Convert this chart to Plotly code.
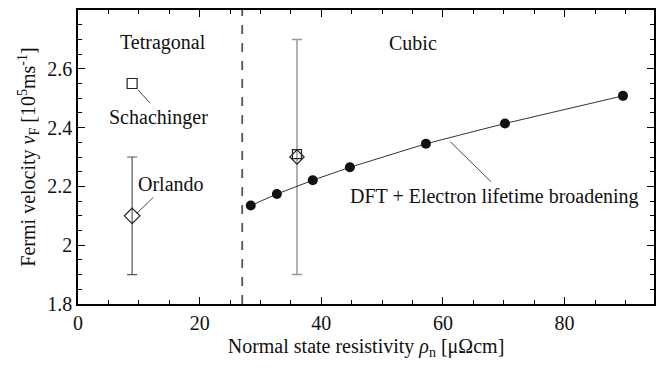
import plotly.graph_objects as go

# Data
dft_rho = [28.4, 32.7, 38.6, 44.7, 57.2, 70.2, 89.6]
dft_vf = [2.135, 2.174, 2.221, 2.265, 2.345, 2.414, 2.508]

schach_rho = [8.9]
schach_vf = [2.55]

orlando_rho = [8.9]
orlando_vf = [2.10]
orlando_err = [0.2]

cubic_sq_rho = [36.0]
cubic_sq_vf = [2.31]
cubic_dia_rho = [36.0]
cubic_dia_vf = [2.30]
cubic_err_plus = [0.40]
cubic_err_minus = [0.40]

boundary_rho = 27.0

x_ticks = [0, 20, 40, 60, 80]
y_ticks = [1.8, 2.0, 2.2, 2.4, 2.6, 2.8]
y_ticktext = ["1.8", "2", "2.2", "2.4", "2.6", "2.8"]

FONT = "Liberation Serif"
DARK = "#222222"
TXT = 20

fig = go.Figure()

# dashed boundary
fig.add_vline(x=boundary_rho, line=dict(color="#555555", width=1.8, dash="dash"))

# Cubic point with grey error bar
fig.add_trace(go.Scatter(
    x=cubic_dia_rho, y=cubic_dia_vf, mode="markers",
    marker=dict(symbol="diamond-open", size=11, color=DARK, line=dict(width=1.2)),
    error_y=dict(type="data", symmetric=False, array=cubic_err_plus, arrayminus=cubic_err_minus,
                 color="#999999", thickness=1.5, width=5),
    showlegend=False))
fig.add_trace(go.Scatter(
    x=cubic_sq_rho, y=cubic_sq_vf, mode="markers",
    marker=dict(symbol="square-open", size=9, color=DARK, line=dict(width=1.2)),
    showlegend=False))

# Orlando
fig.add_trace(go.Scatter(
    x=orlando_rho, y=orlando_vf, mode="markers",
    marker=dict(symbol="diamond-open", size=12, color=DARK, line=dict(width=1.2)),
    error_y=dict(type="data", array=orlando_err, color="#555555", thickness=1.2, width=5),
    showlegend=False))

# Schachinger
fig.add_trace(go.Scatter(
    x=schach_rho, y=schach_vf, mode="markers",
    marker=dict(symbol="square-open", size=10, color=DARK, line=dict(width=1.2)),
    showlegend=False))

# DFT line
fig.add_trace(go.Scatter(
    x=dft_rho, y=dft_vf, mode="lines+markers",
    line=dict(color="#333333", width=1),
    marker=dict(symbol="circle", size=10, color="#111111"),
    showlegend=False))

# Labels
labels = [
    ("Tetragonal", 14.0, 2.688),
    ("Cubic", 55.1, 2.688),
    ("Schachinger", 13.3, 2.436),
    ("Orlando", 15.3, 2.208),
    ("DFT + Electron lifetime broadening", 68.4, 2.167),
]
for t, x, y in labels:
    fig.add_annotation(x=x, y=y, text=t, showarrow=False,
                       font=dict(family=FONT, size=TXT, color="#111111"))

# Leader lines (start near marker, end near label)
leaders = [
    ((9.9, 2.528), (11.8, 2.484)),
    ((9.65, 2.108), (12.4, 2.163)),
    ((61.2, 2.352), (67.9, 2.216)),
]
for (x0, y0), (x1, y1) in leaders:
    fig.add_shape(type="line", x0=x0, y0=y0, x1=x1, y1=y1, xref="x", yref="y",
                  line=dict(color="#333333", width=0.9))

fig.update_xaxes(
    range=[0, 94.7], tickvals=x_ticks, ticktext=[str(v) for v in x_ticks],
    showline=True, linecolor="black", linewidth=1.5, mirror="allticks",
    ticks="inside", ticklen=7, tickwidth=1, tickcolor="black",
    showgrid=False, zeroline=False,
    minor=dict(dtick=5, ticks="inside", ticklen=4, tickcolor="black"),
    tickfont=dict(family=FONT, size=20, color="#111111"),
    title=dict(text="Normal state resistivity <i>ρ</i><sub>n</sub> [μΩcm]",
               font=dict(family=FONT, size=TXT, color="#111111"), standoff=6),
)
fig.update_yaxes(
    range=[1.8, 2.8], tickvals=y_ticks, ticktext=y_ticktext,
    showline=True, linecolor="black", linewidth=1.5, mirror="allticks",
    ticks="inside", ticklen=7, tickwidth=1, tickcolor="black",
    showgrid=False, zeroline=False,
    minor=dict(dtick=0.05, ticks="inside", ticklen=4, tickcolor="black"),
    tickfont=dict(family=FONT, size=20, color="#111111"),
    title=dict(text="Fermi velocity <i>v</i><sub>F</sub> [10<sup>5</sup>ms<sup>-1</sup>]",
               font=dict(family=FONT, size=TXT, color="#111111"), standoff=6),
)

fig.update_layout(
    template="none",
    width=665, height=369,
    margin=dict(l=78, r=11, t=10, b=65),
    plot_bgcolor="white", paper_bgcolor="white",
    showlegend=False,
    font=dict(family=FONT),
)

fig.write_html("out.html")
